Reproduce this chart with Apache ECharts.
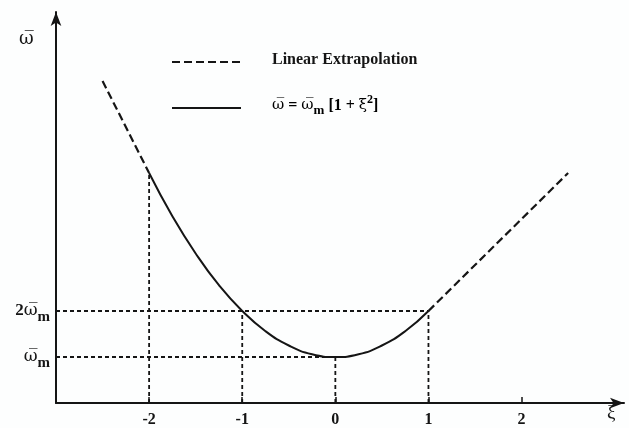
<!DOCTYPE html>
<html><head><meta charset="utf-8">
<script src="https://cdn.jsdelivr.net/npm/echarts@6/dist/echarts.min.js"></script>
<style>html,body{margin:0;padding:0;background:#fdfefe}#c{width:629px;height:428px}</style>
</head><body><div id="c"></div>
<script>
// Data (ω in units of ω_m, ξ dimensionless)
const xTicks = [-2, -1, 0, 1, 2];
const curveXi = [-2, -1.75, -1.5, -1.25, -1, -0.75, -0.5, -0.25, 0, 0.25, 0.5, 0.75, 1];
const curveW  = [5, 4.06, 3.25, 2.56, 2, 1.56, 1.25, 1.06, 1, 1.06, 1.25, 1.56, 2];
const extrapLeft  = [[-2.5, 7], [-2, 5]];
const extrapRight = [[1, 2], [2.5, 5]];
const guideXi = [-2, -1, 0, 1];
const guideW  = [5, 2, 1, 2];
const levelW  = [2, 1];
const levelEnd = [1, 0];
const legendNames = ['Linear Extrapolation', 'ω\u0305 = ω\u0305m [1 + ξ²]'];

const serif = '"Liberation Serif","DejaVu Serif",serif';
const dv = '"DejaVu Serif"';
const ink = '#151515';
const OL = '\u0305';

const series = [];
const dotted = {color: ink, width: 1.8, type: [4, 3]};
guideXi.forEach((x, i) => series.push({
  type: 'line', data: [[x, 0], [x, guideW[i]]], symbol: 'none', silent: true,
  lineStyle: dotted, z: 1
}));
levelW.forEach((w, i) => series.push({
  type: 'line', data: [[-3, w], [levelEnd[i], w]], symbol: 'none', silent: true,
  lineStyle: dotted, z: 1
}));
const dashed = {color: ink, width: 2.2, type: [8, 4]};
series.push({name: legendNames[0], type: 'line', data: extrapLeft, symbol: 'none', lineStyle: dashed, z: 3});
series.push({name: legendNames[0], type: 'line', data: extrapRight, symbol: 'none', lineStyle: dashed, z: 3});
series.push({
  name: legendNames[1], type: 'line', data: curveXi.map((x, i) => [x, curveW[i]]),
  symbol: 'none', smooth: true, lineStyle: {color: ink, width: 2}, z: 3
});

const richBase = {
  a: {fontFamily: serif, fontWeight: 'bold', fontSize: 16, color: ink},
  w: {fontFamily: dv, fontSize: 15, color: ink},
  s: {fontFamily: serif, fontWeight: 'bold', fontSize: 13, color: ink, verticalAlign: 'bottom', padding: [10, 0, 0, 0]},
  p: {fontFamily: serif, fontWeight: 'bold', fontSize: 12, color: ink, verticalAlign: 'top', padding: [0, 0, 8, 0]}
};

const chart = echarts.init(document.getElementById('c'));
chart.setOption({
  backgroundColor: '#fdfefe',
  animation: false,
  grid: {left: 56, right: 5, top: 12, bottom: 25},
  xAxis: {
    type: 'value', min: -3, max: 3.1, interval: 1,
    splitLine: {show: false},
    axisLine: {onZero: false, symbol: ['none', 'arrow'], symbolSize: [8, 14], lineStyle: {color: ink, width: 2}},
    axisTick: {inside: true, length: 6, customValues: xTicks, lineStyle: {color: ink, width: 1.5}},
    axisLabel: {customValues: xTicks, fontFamily: serif, fontWeight: 'bold', fontSize: 16, color: ink, margin: 9}
  },
  yAxis: {
    type: 'value', min: 0, max: 8.5, interval: 1,
    splitLine: {show: false},
    axisLine: {onZero: false, symbol: ['none', 'arrow'], symbolSize: [8, 14], lineStyle: {color: ink, width: 2}},
    axisTick: {show: false},
    axisLabel: {
      customValues: [1, 2], margin: 6,
      formatter: v => v === 2 ? '{a|2}{w|ω' + OL + '}{s|m}' : '{w|ω' + OL + '}{s|m}',
      rich: {
        a: {fontFamily: serif, fontWeight: 'bold', fontSize: 17, color: ink},
        w: {fontFamily: dv, fontSize: 17, color: ink},
        s: {fontFamily: serif, fontWeight: 'bold', fontSize: 15, color: ink, verticalAlign: 'bottom', padding: [12, 0, 0, 0]}
      }
    }
  },
  graphic: [
    {type: 'text', left: 19, top: 30, style: {text: 'ω' + OL, font: '18px ' + dv, fill: ink}},
    {type: 'text', left: 607, top: 404, style: {text: 'ξ', font: '19px ' + serif, fill: ink}},
    {type: 'line', shape: {x1: 172, y1: 62, x2: 241, y2: 62}, style: {stroke: ink, lineWidth: 2.2, lineDash: [8, 4]}},
    {type: 'line', shape: {x1: 172, y1: 108, x2: 241, y2: 108}, style: {stroke: ink, lineWidth: 2.2}},
    {type: 'text', left: 272, top: 52, style: {text: legendNames[0], font: 'bold 16px ' + serif, fill: ink}},
    {type: 'text', left: 272, top: 94, style: {
      text: '{w|ω' + OL + '}{a| = }{w|ω' + OL + '}{s|m}{a| [1 + }{w|ξ}{p|2}{a|]}',
      rich: richBase
    }}
  ],
  series: series
});
</script></body></html>
